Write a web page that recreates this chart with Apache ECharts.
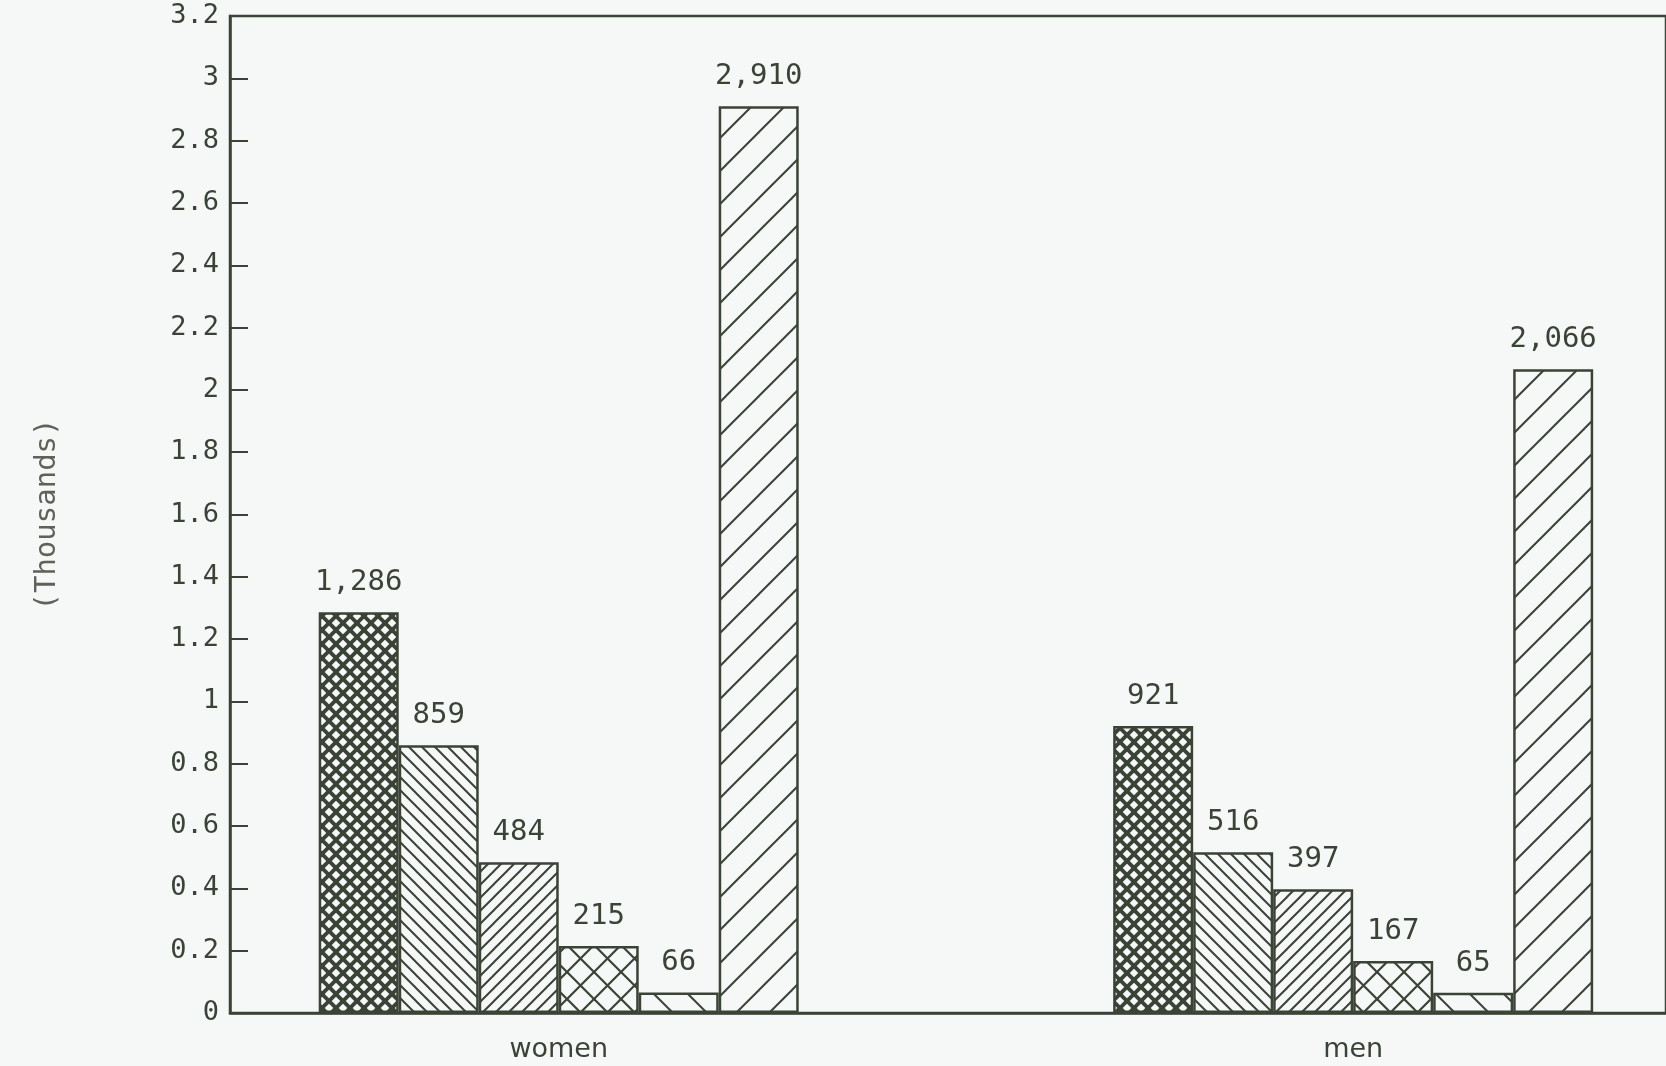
<!DOCTYPE html>
<html>
<head>
<meta charset="utf-8">
<script src="https://cdn.jsdelivr.net/npm/echarts@6/dist/echarts.min.js"></script>
<style>
  html, body { margin: 0; padding: 0; background: #f5f8f7; }
  #chart { width: 1666px; height: 1066px; }
</style>
</head>
<body>
<div id="chart"></div>
<script>
// ---- data ----
const categories = ['women', 'men'];
const seriesNames = ['Series 1', 'Series 2', 'Series 3', 'Series 4', 'Series 5', 'Series 6'];
const series1 = [1286, 921];
const series2 = [859, 516];
const series3 = [484, 397];
const series4 = [215, 167];
const series5 = [66, 65];
const series6 = [2910, 2066];
const yTickLabels = ['0', '0.2', '0.4', '0.6', '0.8', '1', '1.2', '1.4', '1.6', '1.8', '2', '2.2', '2.4', '2.6', '2.8', '3', '3.2'];
const yAxisName = '(Thousands)';

// ---- styles ----
const INK = '#3b4236';
const BG = '#f5f8f7';
const MONO = 'DejaVu Sans Mono';
const SANS = 'DejaVu Sans';

function hatch(size, dirs, lw) {
  const c = document.createElement('canvas');
  c.width = size; c.height = size;
  const g = c.getContext('2d');
  g.fillStyle = BG;
  g.fillRect(0, 0, size, size);
  g.strokeStyle = INK;
  g.lineWidth = lw;
  g.lineCap = 'square';
  dirs.forEach(d => {
    for (let k = -1; k <= 1; k++) {
      g.beginPath();
      if (d === '/') { g.moveTo(k * size, size); g.lineTo(k * size + size, 0); }
      else { g.moveTo(k * size, 0); g.lineTo(k * size + size, size); }
      g.stroke();
    }
  });
  return { image: c, repeat: 'repeat' };
}

const patterns = [
  hatch(14, ['/', '\\'], 3.8),
  hatch(13, ['\\'], 2),
  hatch(13, ['/'], 2),
  hatch(27, ['/', '\\'], 2.2),
  hatch(34, ['\\'], 2),
  hatch(33, ['/'], 2)
];

const allValues = [series1, series2, series3, series4, series5, series6];

const pxPerCat = 800;
const gridLeft = 230, gridRightPx = 1676;
const xMin = -331 / pxPerCat;
const xMax = xMin + (gridRightPx - gridLeft) / pxPerCat;

const chart = echarts.init(document.getElementById('chart'), null, { renderer: 'canvas' });

const option = {
  backgroundColor: BG,
  animation: false,
  grid: {
    left: gridLeft, top: 16, bottom: 53, right: 1666 - gridRightPx,
    show: true, borderColor: INK, borderWidth: 2.5, backgroundColor: 'transparent'
  },
  xAxis: {
    type: 'value',
    min: xMin, max: xMax,
    splitLine: { show: false },
    axisTick: { show: false },
    axisLine: { show: true, onZero: false, lineStyle: { color: INK, width: 2.5 } },
    axisLabel: {
      customValues: categories.map((c, i) => i),
      formatter: v => categories[Math.round(v)] || '',
      color: INK, fontFamily: SANS, fontSize: 27, margin: 23
    }
  },
  yAxis: {
    type: 'value',
    min: 0, max: 3200, interval: 200,
    name: yAxisName,
    nameLocation: 'middle',
    nameGap: 168,
    nameTextStyle: { color: '#5d6359', fontFamily: MONO, fontSize: 29 },
    splitLine: { show: false },
    axisLine: { show: true, onZero: false, lineStyle: { color: INK, width: 2.5 } },
    axisTick: { show: true, inside: true, length: 18, lineStyle: { color: INK, width: 2 } },
    axisLabel: {
      formatter: v => yTickLabels[Math.round(v / 200)],
      color: INK, fontFamily: MONO, fontSize: 27, margin: 11
    }
  },
  series: allValues.map((vals, si) => ({
    name: seriesNames[si],
    type: 'bar',
    barWidth: 80,
    barGap: '0%',
    data: vals.map((v, i) => [i, v]),
    itemStyle: { color: patterns[si], borderColor: INK, borderWidth: 2.5 },
    label: {
      show: true, position: 'top', distance: 15,
      formatter: p => p.value[1].toLocaleString('en-US'),
      color: INK, fontFamily: MONO, fontSize: 29
    }
  }))
};

chart.setOption(option);
</script>
</body>
</html>
